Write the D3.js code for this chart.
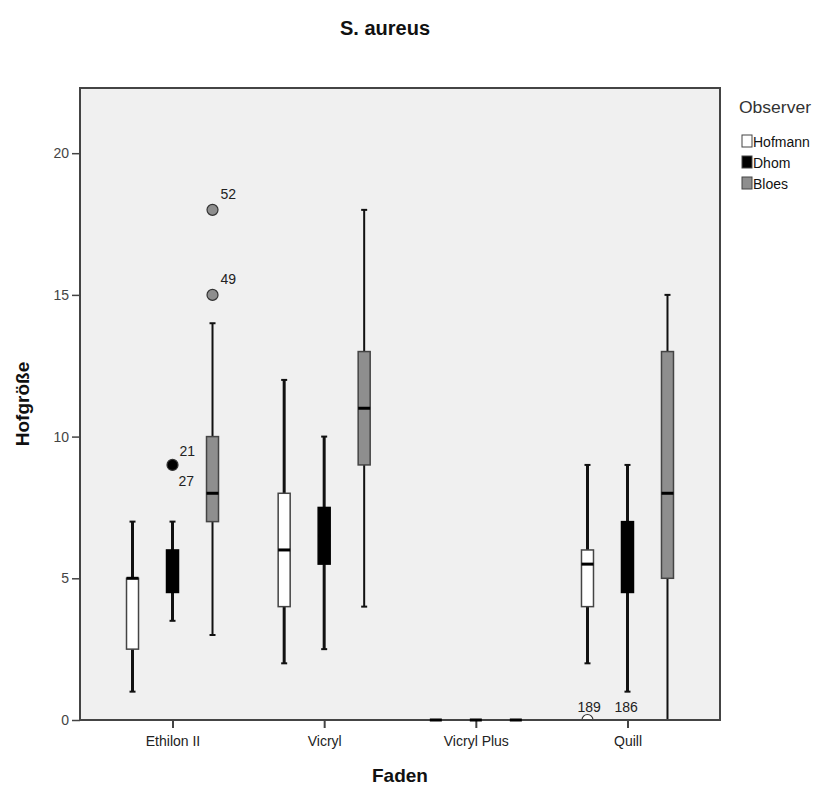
<!DOCTYPE html>
<html>
<head>
<meta charset="utf-8">
<script src="https://cdn.jsdelivr.net/npm/d3@7"></script>
<style>
  body { margin: 0; background: #fff; }
  text { font-family: Arial, "Liberation Sans", sans-serif; }
</style>
</head>
<body>
<script>
// categories + series
const fadenCats = ['Ethilon II', 'Vicryl', 'Vicryl Plus', 'Quill'];
const observers = ['Hofmann', 'Dhom', 'Bloes'];
const obsColors = ['#ffffff', '#000000', '#8e8e8e'];

// one row per Faden, one column per observer
const whiskerLow  = [[1, 3.5, 3], [2, 2.5, 4], [0, 0, 0], [2, 1, 0]];
const q1          = [[2.5, 4.5, 7], [4, 5.5, 9], [0, 0, 0], [4, 4.5, 5]];
const medians     = [[5, 5, 8], [6, 6.5, 11], [0, 0, 0], [5.5, 5.5, 8]];
const q3          = [[5, 6, 10], [8, 7.5, 13], [0, 0, 0], [6, 7, 13]];
const whiskerHigh = [[7, 7, 14], [12, 10, 18], [0, 0, 0], [9, 9, 15]];

// outliers: faden index, observer index, value, case labels
const outFaden  = [0, 0, 0, 3, 3];
const outObs    = [2, 2, 1, 0, 1];
const outValue  = [18, 15, 9, 0, 0];
const outLabels = [['52'], ['49'], ['21', '27'], ['189'], ['186']];
const outShown  = [true, true, true, true, false];

const yTicks = [0, 5, 10, 15, 20];

const W = 813, H = 790;
const plot = {left: 80, right: 720, top: 88, bottom: 720};

let svg = d3.select('body').append('svg')
    .attr('width', W)
    .attr('height', H);

let x = d3.scalePoint()
    .domain(fadenCats)
    .range([plot.left, plot.right])
    .padding(0.61);

let offset = d3.scalePoint()
    .domain(observers)
    .range([-40, 40]);

let y = d3.scaleLinear()
    .domain([0, 22.3])
    .range([plot.bottom, plot.top]);

// plot background
svg.append('rect')
    .attr('x', plot.left).attr('y', plot.top)
    .attr('width', plot.right - plot.left)
    .attr('height', plot.bottom - plot.top)
    .attr('fill', '#f0f0f0')
    .attr('stroke', '#444')
    .attr('stroke-width', 2);

svg.append('clipPath').attr('id', 'plotclip')
    .append('rect')
    .attr('x', plot.left).attr('y', plot.top)
    .attr('width', plot.right - plot.left)
    .attr('height', plot.bottom - plot.top);

let g = svg.append('g').attr('clip-path', 'url(#plotclip)');
let flat = [];

const boxW = 12, capW = 6;

fadenCats.forEach((f, fi) => {
    observers.forEach((o, oi) => {
        let cx = x(f) + offset(o);
        let lo = whiskerLow[fi][oi], hi = whiskerHigh[fi][oi];
        let b1 = q1[fi][oi], b3 = q3[fi][oi], md = medians[fi][oi];
        let ww = oi === 2 ? 2 : 3;

        if (hi === lo && b1 === b3) {
            // degenerate box at one value, drawn later on top of the axis
            flat.push({cx, v: md});
            return;
        }

        // whiskers
        g.append('line')
            .attr('x1', cx).attr('x2', cx)
            .attr('y1', y(lo)).attr('y2', y(b1))
            .attr('stroke', '#111').attr('stroke-width', ww);
        g.append('line')
            .attr('x1', cx).attr('x2', cx)
            .attr('y1', y(b3)).attr('y2', y(hi))
            .attr('stroke', '#111').attr('stroke-width', ww);
        [lo, hi].forEach(v => {
            g.append('line')
                .attr('x1', cx - capW / 2).attr('x2', cx + capW / 2)
                .attr('y1', y(v)).attr('y2', y(v))
                .attr('stroke', '#111').attr('stroke-width', 2);
        });

        // box
        g.append('rect')
            .attr('x', cx - boxW / 2)
            .attr('y', y(b3))
            .attr('width', boxW)
            .attr('height', y(b1) - y(b3))
            .attr('fill', obsColors[oi])
            .attr('stroke', oi === 1 ? '#000' : '#444')
            .attr('stroke-width', 1.5);

        // median
        g.append('line')
            .attr('x1', cx - boxW / 2).attr('x2', cx + boxW / 2)
            .attr('y1', y(md)).attr('y2', y(md))
            .attr('stroke', '#000').attr('stroke-width', 3);
    });
});

// outliers
outValue.forEach((v, i) => {
    let cx = x(fadenCats[outFaden[i]]) + offset(observers[outObs[i]]);
    let cy = y(v);
    if (outShown[i]) {
        g.append('circle')
            .attr('cx', cx).attr('cy', cy).attr('r', 5.5)
            .attr('fill', obsColors[outObs[i]])
            .attr('stroke', '#333')
            .attr('stroke-width', 1.2);
    }
    let labs = outLabels[i];
    if (labs.length === 2) {
        svg.append('text').attr('x', cx + 7).attr('y', cy - 9)
            .attr('font-size', 14).attr('fill', '#222').text(labs[0]);
        svg.append('text').attr('x', cx + 6).attr('y', cy + 21)
            .attr('font-size', 14).attr('fill', '#222').text(labs[1]);
    } else if (v === 0) {
        // labels sitting just above the axis
        svg.append('text').attr('x', outObs[i] === 0 ? cx - 10 : cx - 13).attr('y', cy - 8)
            .attr('font-size', 14).attr('fill', '#222').text(labs[0]);
    } else {
        svg.append('text').attr('x', cx + 8).attr('y', cy - 11)
            .attr('font-size', 14).attr('fill', '#222').text(labs[0]);
    }
});

// axes
let yAxis = svg.append('g')
    .attr('transform', 'translate(' + plot.left + ',0)')
    .call(d3.axisLeft(y).tickValues(yTicks).tickSize(8).tickPadding(3));
yAxis.select('.domain').remove();
yAxis.selectAll('line').attr('stroke', '#444').attr('stroke-width', 1.5);
yAxis.selectAll('text').attr('font-size', 14).attr('fill', '#444')
    .attr('font-family', 'Arial, "Liberation Sans", sans-serif');

let xAxis = svg.append('g')
    .attr('transform', 'translate(0,' + plot.bottom + ')')
    .call(d3.axisBottom(x).tickSize(8).tickPadding(8));
xAxis.select('.domain').remove();
xAxis.selectAll('line').attr('stroke', '#444').attr('stroke-width', 2);
xAxis.selectAll('text').attr('font-size', 14).attr('fill', '#222')
    .attr('font-family', 'Arial, "Liberation Sans", sans-serif');

// axis line redrawn on top
svg.append('line')
    .attr('x1', plot.left).attr('x2', plot.right)
    .attr('y1', plot.bottom).attr('y2', plot.bottom)
    .attr('stroke', '#444').attr('stroke-width', 2);

// zero-height boxes (Vicryl Plus)
svg.selectAll('.flat').data(flat).enter().append('line')
    .attr('class', 'flat')
    .attr('x1', d => d.cx - boxW / 2).attr('x2', d => d.cx + boxW / 2)
    .attr('y1', d => y(d.v)).attr('y2', d => y(d.v))
    .attr('stroke', '#000').attr('stroke-width', 3);

// titles
svg.append('text')
    .attr('x', 385).attr('y', 35)
    .attr('text-anchor', 'middle')
    .attr('font-size', 20).attr('font-weight', 'bold').attr('fill', '#111')
    .text('S. aureus');

svg.append('text')
    .attr('x', 400).attr('y', 782)
    .attr('text-anchor', 'middle')
    .attr('font-size', 19).attr('font-weight', 'bold').attr('fill', '#111')
    .text('Faden');

svg.append('text')
    .attr('transform', 'translate(29,404) rotate(-90)')
    .attr('text-anchor', 'middle')
    .attr('font-size', 19).attr('font-weight', 'bold').attr('fill', '#111')
    .text('Hofgröße');

// legend
let legend = svg.append('g').attr('transform', 'translate(740,0)');
legend.append('text')
    .attr('x', -1).attr('y', 113)
    .attr('font-size', 16).attr('fill', '#333')
    .attr('textLength', 72).attr('lengthAdjust', 'spacingAndGlyphs')
    .text('Observer');
observers.forEach((o, i) => {
    let ly = 135 + i * 21;
    legend.append('rect')
        .attr('x', 2).attr('y', ly)
        .attr('width', 10).attr('height', 12)
        .attr('fill', obsColors[i])
        .attr('stroke', '#444').attr('stroke-width', 1);
    legend.append('text')
        .attr('x', 13).attr('y', ly + 12)
        .attr('font-size', 14).attr('fill', '#111')
        .text(o);
});
</script>
</body>
</html>
